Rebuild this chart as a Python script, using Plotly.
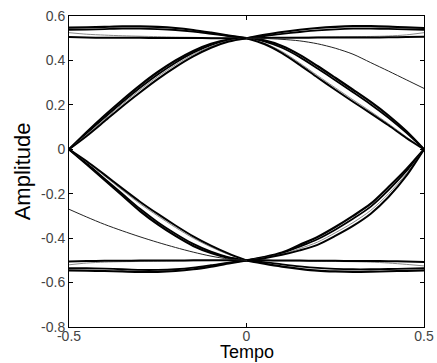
import plotly.graph_objects as go

# time grids for the left and right half of the symbol
x_left = [-0.5, -0.45, -0.4, -0.35, -0.3, -0.25, -0.2, -0.15, -0.1, -0.05, 0.0]
x_right = [0.0, 0.05, 0.1, 0.15, 0.2, 0.25, 0.3, 0.35, 0.4, 0.45, 0.5]

# upper level, left half
top_left = [
    [0.548, 0.549, 0.551, 0.553, 0.553, 0.551, 0.546, 0.537, 0.525, 0.512, 0.5],
    [0.538, 0.539, 0.541, 0.543, 0.543, 0.541, 0.537, 0.530, 0.520, 0.510, 0.5],
    [0.525, 0.518, 0.514, 0.511, 0.509, 0.507, 0.505, 0.504, 0.502, 0.501, 0.5],
    [0.505, 0.503, 0.502, 0.502, 0.502, 0.501, 0.501, 0.501, 0.500, 0.500, 0.5],
]
# upper level, right half
top_right = [
    [0.5, 0.515, 0.528, 0.538, 0.546, 0.551, 0.554, 0.554, 0.552, 0.549, 0.546],
    [0.5, 0.510, 0.520, 0.528, 0.535, 0.540, 0.543, 0.543, 0.542, 0.540, 0.538],
    [0.5, 0.502, 0.503, 0.504, 0.505, 0.506, 0.507, 0.508, 0.510, 0.515, 0.525],
    [0.5, 0.501, 0.502, 0.502, 0.503, 0.503, 0.503, 0.503, 0.504, 0.505, 0.507],
]
# lower level, left half
bot_left = [
    [-0.545, -0.546, -0.548, -0.550, -0.552, -0.552, -0.548, -0.540, -0.528, -0.514, -0.5],
    [-0.535, -0.535, -0.537, -0.540, -0.543, -0.543, -0.540, -0.533, -0.522, -0.510, -0.5],
    [-0.520, -0.512, -0.508, -0.506, -0.505, -0.504, -0.503, -0.502, -0.501, -0.500, -0.5],
    [-0.505, -0.503, -0.502, -0.502, -0.501, -0.501, -0.501, -0.500, -0.500, -0.500, -0.5],
]
# lower level, right half
bot_right = [
    [-0.5, -0.515, -0.528, -0.538, -0.546, -0.550, -0.552, -0.551, -0.549, -0.547, -0.545],
    [-0.5, -0.508, -0.518, -0.527, -0.534, -0.538, -0.540, -0.540, -0.539, -0.537, -0.535],
    [-0.5, -0.501, -0.502, -0.503, -0.504, -0.505, -0.506, -0.508, -0.512, -0.518, -0.525],
    [-0.5, -0.500, -0.501, -0.501, -0.502, -0.502, -0.503, -0.503, -0.504, -0.505, -0.507],
]
# transitions 0 -> +0.5 (left half)
rise_left = [
    [0.0, 0.078, 0.152, 0.222, 0.288, 0.348, 0.400, 0.443, 0.475, 0.494, 0.5],
    [0.0, 0.072, 0.143, 0.212, 0.277, 0.337, 0.390, 0.435, 0.469, 0.491, 0.5],
    [0.0, 0.066, 0.135, 0.203, 0.267, 0.327, 0.380, 0.427, 0.463, 0.488, 0.5],
    [0.0, 0.060, 0.126, 0.193, 0.256, 0.316, 0.370, 0.418, 0.457, 0.485, 0.5],
]
# transitions 0 -> -0.5 (left half)
fall_left = [
    [0.0, -0.068, -0.138, -0.208, -0.278, -0.338, -0.390, -0.435, -0.467, -0.489, -0.5],
    [0.0, -0.064, -0.132, -0.200, -0.268, -0.328, -0.380, -0.426, -0.461, -0.486, -0.5],
    [0.0, -0.058, -0.120, -0.184, -0.245, -0.300, -0.352, -0.400, -0.440, -0.474, -0.5],
    [0.0, -0.054, -0.114, -0.176, -0.236, -0.291, -0.343, -0.392, -0.434, -0.470, -0.5],
]
# transitions +0.5 -> 0 (right half)
fall_right = [
    [0.5, 0.490, 0.465, 0.425, 0.375, 0.322, 0.268, 0.213, 0.152, 0.082, 0.0],
    [0.5, 0.486, 0.457, 0.415, 0.364, 0.311, 0.257, 0.202, 0.142, 0.075, 0.0],
    [0.5, 0.478, 0.440, 0.388, 0.332, 0.277, 0.223, 0.170, 0.115, 0.056, 0.0],
    [0.5, 0.474, 0.433, 0.380, 0.323, 0.268, 0.214, 0.162, 0.108, 0.051, 0.0],
]
# transitions -0.5 -> 0 (right half)
rise_right = [
    [-0.5, -0.485, -0.465, -0.430, -0.395, -0.350, -0.300, -0.245, -0.170, -0.090, 0.0],
    [-0.5, -0.487, -0.468, -0.438, -0.405, -0.362, -0.313, -0.258, -0.184, -0.099, 0.0],
    [-0.5, -0.489, -0.472, -0.447, -0.418, -0.376, -0.330, -0.275, -0.200, -0.110, 0.0],
    [-0.5, -0.490, -0.475, -0.455, -0.430, -0.390, -0.345, -0.290, -0.215, -0.120, 0.0],
]
# the two slow single traces
slow_left = [-0.270, -0.305, -0.338, -0.367, -0.394, -0.419, -0.442, -0.463, -0.481, -0.494, -0.5]
slow_right = [0.5, 0.499, 0.495, 0.488, 0.475, 0.455, 0.428, 0.390, 0.352, 0.313, 0.274]

bundle_styles = [("black", 2.2), ("black", 1.8), ("#888888", 1.0), ("black", 2.0)]

fig = go.Figure()


def add_bundle(xs, bundle):
    for ys, (color, width) in zip(bundle, bundle_styles):
        fig.add_trace(go.Scatter(
            x=xs, y=ys, mode="lines",
            line=dict(color=color, width=width, shape="spline", smoothing=0.8),
            showlegend=False, hoverinfo="skip",
        ))


add_bundle(x_left, top_left)
add_bundle(x_right, top_right)
add_bundle(x_left, bot_left)
add_bundle(x_right, bot_right)
add_bundle(x_left, rise_left)
add_bundle(x_left, fall_left)
add_bundle(x_right, fall_right)
add_bundle(x_right, rise_right)

for xs, ys in [(x_left, slow_left), (x_right, slow_right)]:
    fig.add_trace(go.Scatter(
        x=xs, y=ys, mode="lines",
        line=dict(color="#222222", width=1, shape="spline", smoothing=0.8),
        showlegend=False, hoverinfo="skip",
    ))

tick_font = dict(family="Liberation Sans, Arial, sans-serif", size=14, color="#444444")
axis_common = dict(
    showgrid=False, zeroline=False, showline=True, linecolor="black", linewidth=1,
    mirror="ticks", ticks="inside", ticklen=4, tickcolor="black", tickfont=tick_font,
    automargin=False,
)

fig.update_layout(
    template="none",
    width=437, height=363,
    margin=dict(l=69, r=13, t=16, b=36),
    paper_bgcolor="white", plot_bgcolor="white",
    xaxis=dict(
        range=[-0.5, 0.5], tickvals=[-0.5, 0, 0.5], ticktext=["-0.5", "0", "0.5"],
        ticklabelstandoff=-4,
        **axis_common,
    ),
    yaxis=dict(
        range=[-0.8, 0.6], tickvals=[-0.8, -0.6, -0.4, -0.2, 0, 0.2, 0.4, 0.6],
        ticktext=["-0.8", "-0.6", "-0.4", "-0.2", "0", "0.2", "0.4", "0.6"],
        **axis_common,
    ),
    annotations=[
        dict(text="Amplitude", xref="paper", yref="paper", x=-0.13, y=0.5,
             textangle=-90, showarrow=False, xanchor="center", yanchor="middle",
             font=dict(family="Liberation Sans, Arial, sans-serif", size=22, color="black")),
        dict(text="Tempo", xref="paper", yref="paper", x=0.5, y=-0.08,
             showarrow=False, xanchor="center", yanchor="middle",
             font=dict(family="Liberation Sans, Arial, sans-serif", size=18, color="black")),
    ],
)

# the page body has a default 8px margin; remove it so the figure fills the window
fig.write_html("out.html", config={"displayModeBar": False},
               post_script="document.body.style.margin='0';")
